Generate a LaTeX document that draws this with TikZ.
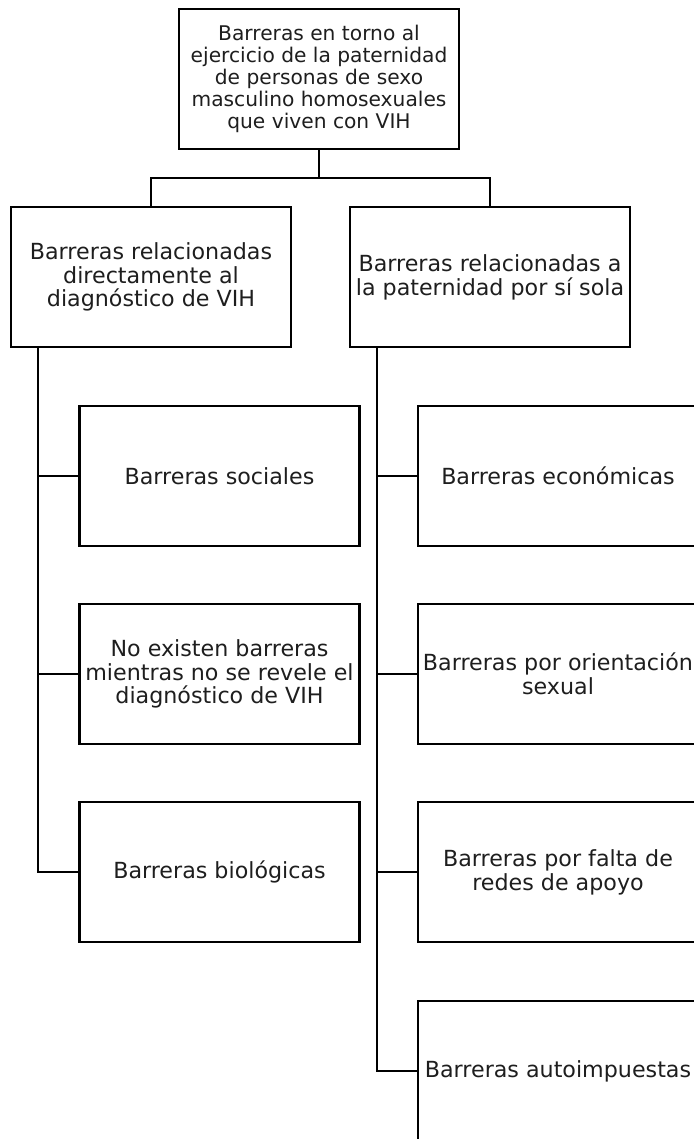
\documentclass[tikz,border=0pt]{standalone}
\usepackage{fontspec}
\setmainfont{DejaVu Sans}
\definecolor{inkgray}{HTML}{1E1E1E}
\tikzset{
  barbox/.style={draw=black, line width=1.1pt, fill=white,
    minimum width=140pt, minimum height=70pt, inner sep=0pt,
    align=center, text=inkgray,
    font=\fontsize{11.1pt}{11.9pt}\selectfont},
  rootbox/.style={barbox, font=\fontsize{10.1pt}{11.1pt}\selectfont},
  link/.style={black, line width=1.1pt}
}
\begin{document}
\begin{tikzpicture}[x=0.5pt,y=-0.5pt]
    \clip (0,0) rectangle (694,1139);
    \fill[white] (0,0) rectangle (694,1139);
    % Root
    \node[rootbox] (root) at (319,79) {Barreras en torno al\\ejercicio de la paternidad\\de personas de sexo\\masculino homosexuales\\que viven con VIH};
    % Level 1
    \node[barbox] (diag) at (151,277) {Barreras relacionadas\\directamente al\\diagnóstico de VIH};
    \node[barbox] (pater) at (490,277) {Barreras relacionadas a\\la paternidad por sí sola};
    \coordinate (bar) at (319,178);
    \draw[link] (root.south) -- (bar);
    \draw[link] (diag.north) |- (bar) -| (pater.north);
    % Left branch
    \node[barbox] (social) at (219.5,476) {Barreras sociales};
    \node[barbox] (noreveal) at (219.5,674) {No existen barreras\\mientras no se revele el\\diagnóstico de VIH};
    \node[barbox] (bio) at (219.5,872) {Barreras biológicas};
    \coordinate (ltrunk) at ([xshift=14pt]diag.south west);
    \draw[link] (ltrunk) |- (bio.west);
    \foreach \n in {social,noreveal}
      \draw[link] (ltrunk |- \n.west) -- (\n.west);
    % Right branch
    \node[barbox] (econ) at (558,476) {Barreras económicas};
    \node[barbox] (orient) at (558,674) {Barreras por orientación\\sexual};
    \node[barbox] (redes) at (558,872) {Barreras por falta de\\redes de apoyo};
    \node[barbox] (auto) at (558,1071) {Barreras autoimpuestas};
    \coordinate (rtrunk) at ([xshift=14pt]pater.south west);
    \draw[link] (rtrunk) |- (auto.west);
    \foreach \n in {econ,orient,redes}
      \draw[link] (rtrunk |- \n.west) -- (\n.west);
\end{tikzpicture}
\end{document}
